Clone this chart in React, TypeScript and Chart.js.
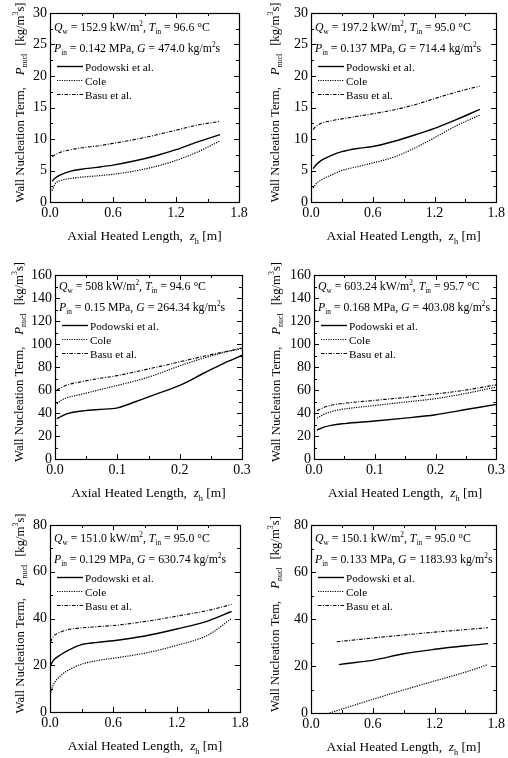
import React, { useEffect, useRef } from 'react';
import { Chart, registerables } from 'chart.js';
Chart.register(...registerables);

// ---------- DATA ----------
const seriesNames = ['Podowski et al.', 'Cole', 'Basu et al.'];

// Panel 1
const plot1Z = [0.02, 0.05, 0.1, 0.2, 0.3, 0.45, 0.6, 0.8, 1.0, 1.2, 1.4, 1.62];
const plot1Podowski = [3.3, 3.8, 4.3, 4.9, 5.2, 5.5, 5.85, 6.5, 7.3, 8.3, 9.5, 10.7];
const plot1Cole = [1.8, 2.9, 3.4, 3.75, 3.95, 4.15, 4.4, 4.9, 5.6, 6.6, 7.9, 9.7];
const plot1Basu = [7.2, 7.5, 7.9, 8.3, 8.6, 8.9, 9.3, 9.9, 10.6, 11.4, 12.2, 12.8];
const plot1Params = ['152.9', '96.6', '0.142', '474.0'];

// Panel 2
const plot2Z = [0.02, 0.05, 0.1, 0.2, 0.3, 0.45, 0.6, 0.8, 1.0, 1.2, 1.4, 1.64];
const plot2Podowski = [5.3, 5.9, 6.6, 7.4, 8.0, 8.5, 8.8, 9.6, 10.6, 11.7, 13.0, 14.7];
const plot2Cole = [2.2, 2.9, 3.5, 4.3, 5.0, 5.6, 6.2, 7.1, 8.5, 10.2, 12.0, 13.8];
const plot2Basu = [11.5, 12.0, 12.5, 12.9, 13.2, 13.6, 14.0, 14.6, 15.4, 16.4, 17.4, 18.4];
const plot2Params = ['197.2', '95.0', '0.137', '714.4'];

// Panel 3
const plot3Z = [0.003, 0.01, 0.02, 0.04, 0.07, 0.1, 0.13, 0.16, 0.2, 0.24, 0.27, 0.3];
const plot3Podowski = [35, 37, 39.5, 41.5, 43, 44.5, 50, 56, 64, 75, 83, 90];
const plot3Cole = [48, 51, 53.5, 56, 60, 64, 68, 73, 81, 88, 92.5, 96];
const plot3Basu = [60, 62, 64.5, 67, 70, 72.5, 76, 79.5, 84.5, 89.5, 93, 96.5];
const plot3Params = ['508', '94.6', '0.15', '264.34'];

// Panel 4
const plot4Z = [0.005, 0.015, 0.03, 0.05, 0.1, 0.15, 0.2, 0.25, 0.3];
const plot4Podowski = [25, 27.5, 29.5, 30.8, 33, 35.5, 38.5, 43, 47.5];
const plot4Cole = [35.5, 38.5, 41.5, 43.5, 46.5, 49.5, 52.5, 57, 62.5];
const plot4Basu = [42, 44.5, 47, 48.5, 51, 53.5, 56.5, 60, 64.5];
const plot4Params = ['603.24', '95.7', '0.168', '403.08'];

// Panel 5
const plot5Z = [0.005, 0.03, 0.1, 0.2, 0.3, 0.45, 0.6, 0.9, 1.2, 1.5, 1.72];
const plot5Podowski = [20, 22, 24.5, 27, 28.8, 29.8, 30.5, 32.5, 35.5, 39, 43];
const plot5Cole = [8, 11.5, 15.5, 18.5, 20.5, 22, 23, 25.2, 28.5, 33, 40];
const plot5Basu = [30, 32.2, 34.2, 35.5, 36, 36.5, 37, 38.7, 41, 43.5, 46];
const plot5Params = ['151.0', '95.0', '0.129', '630.74'];

// Panel 6
const plot6PodowskiZ = [0.27, 0.45, 0.6, 0.9, 1.2, 1.5, 1.72];
const plot6Podowski = [20.6, 21.6, 22.4, 25.2, 27.1, 28.6, 29.5];
const plot6ColeZ = [0.18, 0.6, 0.9, 1.2, 1.5, 1.72];
const plot6Cole = [0, 5.8, 9.8, 13.6, 17.4, 20.6];
const plot6BasuZ = [0.25, 0.6, 0.9, 1.2, 1.5, 1.72];
const plot6Basu = [30.3, 31.9, 33.2, 34.4, 35.5, 36.3];
const plot6Params = ['150.1', '95.0', '0.133', '1183.93'];

// Ticks
const longXTicks = [0, 0.6, 1.2, 1.8];
const shortXTicks = [0, 0.1, 0.2, 0.3];
const yTicks30 = [0, 5, 10, 15, 20, 25, 30];
const yTicks160 = [0, 20, 40, 60, 80, 100, 120, 140, 160];
const yTicks80 = [0, 20, 40, 60, 80];

const yTitleWord = ['Wall Nucleation Term,', 'Wall Nucleation Term,', 'Wall Nucleation Term,', 'Wall Nucleation Term,', 'Wall Nucleation Term,', 'Wall Nucleation Tem,'];

// ---------- LAYOUT / STYLE ----------
const FONT = '"Liberation Serif", "Times New Roman", serif';
const STYLES = [
  { borderDash: [] as number[], borderWidth: 1.4 },
  { borderDash: [1.2, 1.2], borderWidth: 1.2 },
  { borderDash: [3.5, 1.5, 1, 1.5], borderWidth: 1.1 },
];

type Seg = { t?: string; i?: boolean; sub?: boolean; sup?: boolean; gap?: number };

function segFont(s: Seg, fs: number) {
  const size = s.sub || s.sup ? fs * 0.62 : fs;
  return `${s.i ? 'italic ' : ''}${size}px ${FONT}`;
}
function richWidth(ctx: CanvasRenderingContext2D, segs: Seg[], fs: number) {
  let w = 0;
  for (const s of segs) {
    if (s.gap) { w += s.gap; continue; }
    ctx.font = segFont(s, fs);
    w += ctx.measureText(s.t || '').width;
  }
  return w;
}
function drawRich(ctx: CanvasRenderingContext2D, segs: Seg[], x: number, y: number, fs: number, align: 'left' | 'center') {
  const w = richWidth(ctx, segs, fs);
  let cx = align === 'center' ? x - w / 2 : x;
  ctx.textAlign = 'left';
  ctx.textBaseline = 'alphabetic';
  ctx.fillStyle = '#000';
  for (const s of segs) {
    if (s.gap) { cx += s.gap; continue; }
    ctx.font = segFont(s, fs);
    const dy = s.sub ? fs * 0.28 : s.sup ? -fs * 0.4 : 0;
    ctx.fillText(s.t || '', cx, y + dy);
    cx += ctx.measureText(s.t || '').width;
  }
}

type Panel = {
  cell: { x: number; y: number; w: number; h: number };
  area: { l: number; t: number; r: number; b: number };
  xMax: number; xTicks: number[]; yMax: number; yTicks: number[];
  series: { z: number[]; v: number[] }[];
  params: string[];
  yWord: string;
  yTitleX: number;
  textDy: number;
};

const panels: Panel[] = [
  { cell: { x: 0, y: 0, w: 254, h: 253 }, area: { l: 50, t: 13, r: 239, b: 202 }, xMax: 1.8, xTicks: longXTicks, yMax: 30, yTicks: yTicks30,
    series: [{ z: plot1Z, v: plot1Podowski }, { z: plot1Z, v: plot1Cole }, { z: plot1Z, v: plot1Basu }], params: plot1Params, yWord: yTitleWord[0], yTitleX: 19, textDy: 1 },
  { cell: { x: 254, y: 0, w: 254, h: 253 }, area: { l: 57, t: 13, r: 246, b: 202 }, xMax: 1.8, xTicks: longXTicks, yMax: 30, yTicks: yTicks30,
    series: [{ z: plot2Z, v: plot2Podowski }, { z: plot2Z, v: plot2Cole }, { z: plot2Z, v: plot2Basu }], params: plot2Params, yWord: yTitleWord[1], yTitleX: 20, textDy: 1 },
  { cell: { x: 0, y: 253, w: 254, h: 253 }, area: { l: 55, t: 22, r: 242, b: 206 }, xMax: 0.3, xTicks: shortXTicks, yMax: 160, yTicks: yTicks160,
    series: [{ z: plot3Z, v: plot3Podowski }, { z: plot3Z, v: plot3Cole }, { z: plot3Z, v: plot3Basu }], params: plot3Params, yWord: yTitleWord[2], yTitleX: 18, textDy: -2 },
  { cell: { x: 254, y: 253, w: 254, h: 253 }, area: { l: 60, t: 22, r: 247, b: 206 }, xMax: 0.3, xTicks: shortXTicks, yMax: 160, yTicks: yTicks160,
    series: [{ z: plot4Z, v: plot4Podowski }, { z: plot4Z, v: plot4Cole }, { z: plot4Z, v: plot4Basu }], params: plot4Params, yWord: yTitleWord[3], yTitleX: 21, textDy: -2 },
  { cell: { x: 0, y: 506, w: 254, h: 252 }, area: { l: 50, t: 19, r: 240, b: 206 }, xMax: 1.8, xTicks: longXTicks, yMax: 80, yTicks: yTicks80,
    series: [{ z: plot5Z, v: plot5Podowski }, { z: plot5Z, v: plot5Cole }, { z: plot5Z, v: plot5Basu }], params: plot5Params, yWord: yTitleWord[4], yTitleX: 19, textDy: 0 },
  { cell: { x: 254, y: 506, w: 254, h: 252 }, area: { l: 57, t: 19, r: 247, b: 207 }, xMax: 1.8, xTicks: longXTicks, yMax: 80, yTicks: yTicks80,
    series: [{ z: plot6PodowskiZ, v: plot6Podowski }, { z: plot6ColeZ, v: plot6Cole }, { z: plot6BasuZ, v: plot6Basu }], params: plot6Params, yWord: yTitleWord[5], yTitleX: 20, textDy: 0 },
];

function PanelChart({ p }: { p: Panel }) {
  const ref = useRef<HTMLCanvasElement>(null);
  useEffect(() => {
    const canvas = ref.current!;
    const A = p.area;
    const framePlugin = {
      id: 'frame',
      afterDatasetsDraw(chart: any) {
        const ctx: CanvasRenderingContext2D = chart.ctx;
        const ca = chart.chartArea;
        const xs = chart.scales.x, ys = chart.scales.y;
        ctx.save();
        ctx.strokeStyle = '#000';
        ctx.lineWidth = 1.2;
        ctx.strokeRect(Math.round(ca.left) + 0.5, Math.round(ca.top) + 0.5, Math.round(ca.right - ca.left), Math.round(ca.bottom - ca.top));
        const major = 5, minor = 3;
        ctx.lineWidth = 1;
        ctx.beginPath();
        const xt = p.xTicks;
        const xMinorStep = (xt[1] - xt[0]) / 2;
        for (let i = 0; i < xt.length; i++) {
          const vals: [number, number][] = [[xt[i], major]];
          if (i < xt.length - 1) vals.push([xt[i] + xMinorStep, minor]);
          for (const [v, len] of vals) {
            const px = Math.round(xs.getPixelForValue(v)) + 0.5;
            ctx.moveTo(px, ca.bottom); ctx.lineTo(px, ca.bottom - len);
            ctx.moveTo(px, ca.top); ctx.lineTo(px, ca.top + len);
          }
        }
        const yt = p.yTicks;
        const yMinorStep = (yt[1] - yt[0]) / 2;
        for (let i = 0; i < yt.length; i++) {
          const vals: [number, number][] = [[yt[i], major]];
          if (i < yt.length - 1) vals.push([yt[i] + yMinorStep, minor]);
          for (const [v, len] of vals) {
            const py = Math.round(ys.getPixelForValue(v)) + 0.5;
            ctx.moveTo(ca.left, py); ctx.lineTo(ca.left + len, py);
            ctx.moveTo(ca.right, py); ctx.lineTo(ca.right - len, py);
          }
        }
        ctx.stroke();

        // annotation text
        const [qw, tin, pin, g] = p.params;
        const afs = 11.8;
        const top = ca.top + p.textDy;
        drawRich(ctx, [{ t: 'Q', i: true }, { t: 'w', sub: true }, { t: ` = ${qw} kW/m` }, { t: '2', sup: true }, { t: ', ' }, { t: 'T', i: true }, { t: 'in', sub: true }, { t: ` = ${tin} °C` }], ca.left + 4, top + 17, afs, 'left');
        drawRich(ctx, [{ t: 'P', i: true }, { t: 'in', sub: true }, { t: ` = ${pin} MPa, ` }, { t: 'G', i: true }, { t: ` = ${g} kg/m` }, { t: '2', sup: true }, { t: 's' }], ca.left + 4, top + 38, afs, 'left');
        // legend
        chart.data.datasets.forEach((ds: any, i: number) => {
          const cy = Math.round(top + 52 + i * 14) + 0.5;
          ctx.save();
          ctx.strokeStyle = '#000';
          ctx.lineWidth = ds.borderWidth;
          ctx.setLineDash(ds.borderDash || []);
          ctx.beginPath();
          ctx.moveTo(ca.left + 7, cy); ctx.lineTo(ca.left + 33, cy);
          ctx.stroke();
          ctx.restore();
          drawRich(ctx, [{ t: ds.label }], ca.left + 35, cy + 4, 11.2, 'left');
        });

        // axis titles
        drawRich(ctx, [{ t: 'Axial Heated Length,  ' }, { t: 'z', i: true }, { t: 'h', sub: true }, { t: ' [m]' }], (ca.left + ca.right) / 2, ca.bottom + 38, 13.4, 'center');
        ctx.save();
        ctx.translate(p.yTitleX + 4.5, (ca.top + ca.bottom) / 2 - 5);
        ctx.rotate(-Math.PI / 2);
        drawRich(ctx, [{ t: p.yWord }, { gap: 12 }, { t: 'P', i: true }, { t: 'nucl', sub: true }, { gap: 8 }, { t: '[kg/m' }, { t: '3', sup: true }, { t: 's]' }], 0, 0, 12.7, 'center');
        ctx.restore();
        ctx.restore();
      },
    };

    const chart = new Chart(canvas, {
      type: 'line',
      data: {
        datasets: p.series.map((s, i) => ({
          label: seriesNames[i],
          data: s.z.map((z, k) => ({ x: z, y: s.v[k] })),
          borderColor: '#000',
          backgroundColor: '#000',
          borderWidth: STYLES[i].borderWidth,
          borderDash: STYLES[i].borderDash,
          pointRadius: 0,
          fill: false,
          cubicInterpolationMode: 'monotone' as const,
        })),
      },
      options: {
        animation: false,
        responsive: false,
        devicePixelRatio: 1,
        layout: { padding: { left: 0, top: A.t, right: p.cell.w - A.r, bottom: 0 } },
        plugins: { legend: { display: false }, tooltip: { enabled: false } },
        scales: {
          x: {
            type: 'linear', min: 0, max: p.xMax,
            grid: { display: false, drawTicks: false },
            border: { display: false },
            ticks: { color: '#000', font: { family: FONT, size: 14 }, padding: 3, autoSkip: false, maxRotation: 0, callback: (v: any) => Number(v).toFixed(1) },
            afterBuildTicks: (s: any) => { s.ticks = p.xTicks.map((v) => ({ value: v })); },
            afterFit: (s: any) => { s.height = p.cell.h - A.b; },
          },
          y: {
            type: 'linear', min: 0, max: p.yMax,
            grid: { display: false, drawTicks: false },
            border: { display: false },
            ticks: { color: '#000', font: { family: FONT, size: 14 }, padding: 3, autoSkip: false, callback: (v: any) => String(v) },
            afterBuildTicks: (s: any) => { s.ticks = p.yTicks.map((v) => ({ value: v })); },
            afterFit: (s: any) => { s.width = A.l; },
          },
        },
      } as any,
      plugins: [framePlugin],
    });
    return () => chart.destroy();
  }, [p]);
  return (
    <canvas
      ref={ref}
      width={p.cell.w}
      height={p.cell.h}
      style={{ position: 'absolute', left: p.cell.x, top: p.cell.y, width: p.cell.w, height: p.cell.h }}
    />
  );
}

export default function App() {
  return (
    <div style={{ position: 'absolute', left: 0, top: 0, width: 508, height: 758, background: '#fff', overflow: 'hidden' }}>
      {panels.map((p, i) => (
        <PanelChart key={i} p={p} />
      ))}
    </div>
  );
}
